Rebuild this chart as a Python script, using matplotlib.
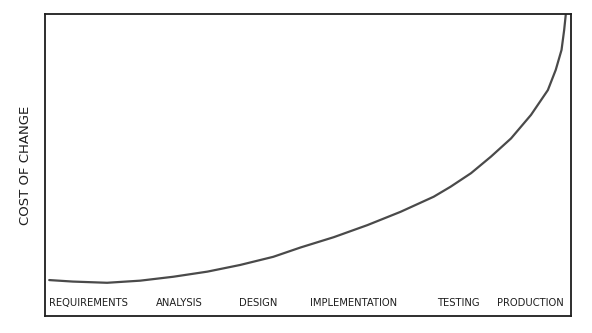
import matplotlib
matplotlib.use("Agg")
import matplotlib.pyplot as plt

# phases along the bottom of the chart
phases = ["REQUIREMENTS", "ANALYSIS", "DESIGN", "IMPLEMENTATION", "TESTING", "PRODUCTION"]

# cost of change curve (x = progress %, y = cost %)
progress = [0.8, 5.3, 11.8, 18.1, 24.4, 30.9, 37.1, 43.4, 48.6, 54.9, 61.3,
            67.6, 73.9, 77.1, 81.0, 84.8, 88.6, 92.4, 95.6, 97.1, 98.2, 98.7, 99.0]
cost = [11.9, 11.4, 11.0, 11.7, 13.0, 14.7, 16.9, 19.6, 22.7, 26.1, 30.1,
        34.5, 39.5, 42.8, 47.3, 52.8, 58.8, 66.6, 74.8, 81.5, 88.1, 94.7, 99.7]

# where each phase label sits along the x axis
label_x = [8.2, 25.5, 40.5, 58.6, 78.5, 92.2]
label_y = 4.3

ink = "#1e1e1e"

fig = plt.figure(figsize=(5.92, 3.33), dpi=100)
ax = fig.add_axes([45 / 592, 17 / 333, 526 / 592, 302 / 333])

ax.plot(progress, cost, color="#4a4a4a", lw=1.6, solid_capstyle="round",
        solid_joinstyle="round")

for name, x in zip(phases, label_x):
    ax.text(x, label_y, name, ha="center", va="center", fontsize=7.2,
            color=ink, family="DejaVu Sans")

ax.set_xlim(0, 100)
ax.set_ylim(0, 100)
ax.set_xticks([])
ax.set_yticks([])
ax.set_ylabel("COST OF CHANGE", fontsize=9.5, color=ink, labelpad=9)

for side in ax.spines.values():
    side.set_color(ink)
    side.set_linewidth(1.3)

fig.savefig("out.png", dpi=100, facecolor="white")
